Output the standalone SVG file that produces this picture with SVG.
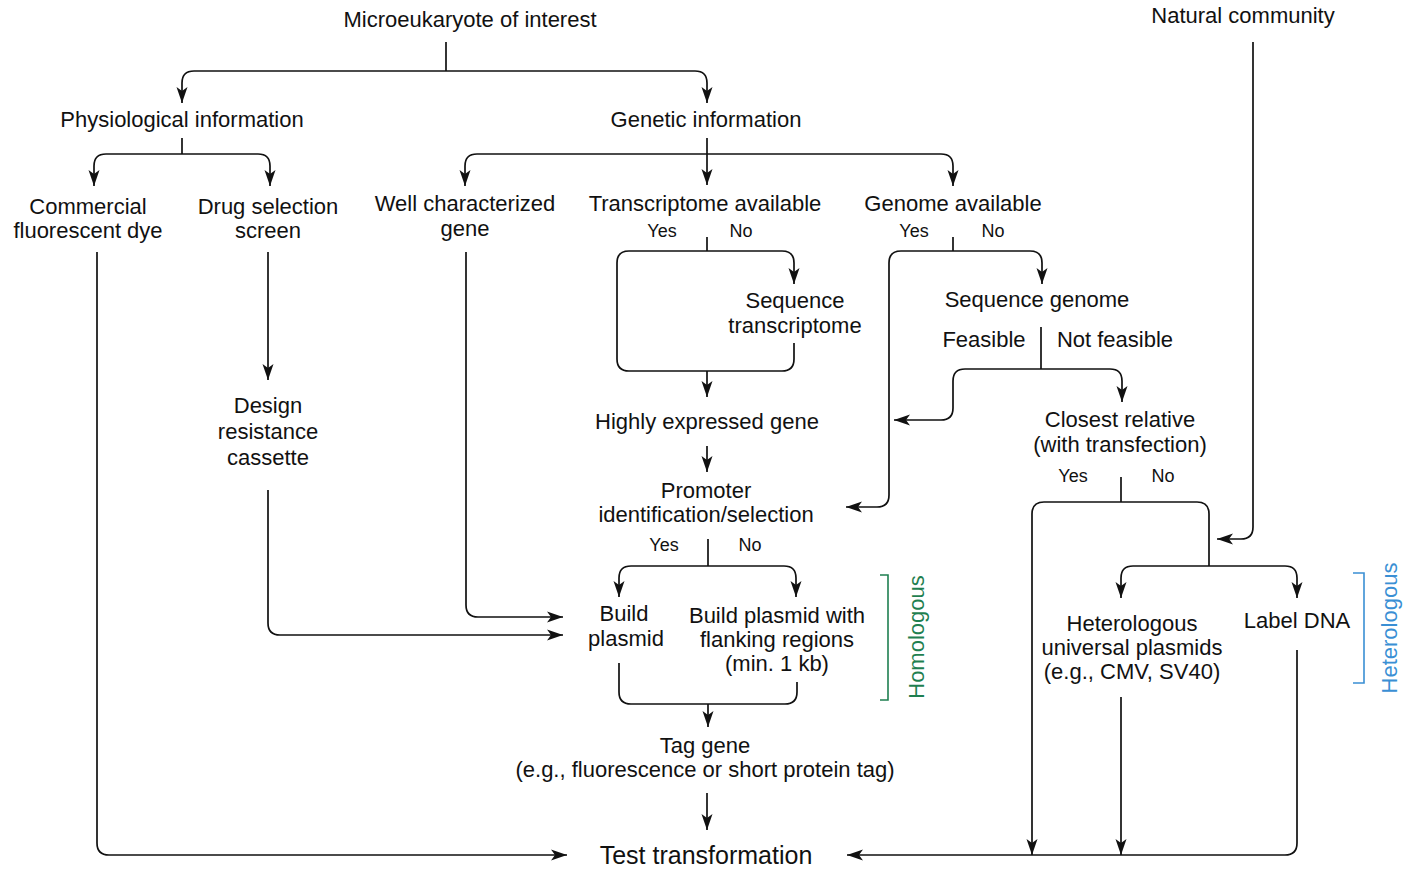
<svg xmlns="http://www.w3.org/2000/svg" width="1418" height="869" viewBox="0 0 1418 869">
<style>
text{font-family:"Liberation Sans",Arial,sans-serif;font-size:22px;fill:#111;text-anchor:middle}
.s{font-size:18px}
.big{font-size:25px}
.c path{fill:none;stroke:#111;stroke-width:1.7}
.ar{marker-end:url(#ah)}
.hom{fill:#1f7f50}
.het{fill:#3a8fd4}
</style>
<defs>
<marker id="ah" markerUnits="userSpaceOnUse" markerWidth="18" markerHeight="14" viewBox="0 0 18 14" refX="16" refY="7" orient="auto">
<path d="M0,1.5 L16,7 L0,12.5 L4,7 z" fill="#111"/>
</marker>
</defs>
<rect width="1418" height="869" fill="#fff"/>
<g class="c" id="connectors">
<path d="M446,42 V71"/>
<path class="ar" d="M446,71 H194 Q182,71 182,83 V103"/>
<path class="ar" d="M446,71 H695 Q707,71 707,83 V103"/>
<path d="M182,138 V154"/>
<path class="ar" d="M182,154 H106 Q94,154 94,166 V186"/>
<path class="ar" d="M182,154 H258 Q270,154 270,166 V186"/>
<path class="ar" d="M707,138 V185"/>
<path class="ar" d="M707,154 H477 Q465,154 465,166 V186"/>
<path class="ar" d="M707,154 H941 Q953,154 953,166 V186"/>
<path class="ar" d="M97,252 V843 Q97,855 109,855 H567"/>
<path class="ar" d="M268,252 V380"/>
<path class="ar" d="M268,490 V623 Q268,635 280,635 H563"/>
<path class="ar" d="M466,252 V605 Q466,617 478,617 H563"/>
<path d="M707,237 V251"/>
<path class="ar" d="M707,251 H782 Q794,251 794,263 V284"/>
<path d="M707,251 H629 Q617,251 617,263 V359 Q617,371 629,371 H782 Q794,371 794,359 V343"/>
<path class="ar" d="M707,371 V397"/>
<path class="ar" d="M707,446 V472"/>
<path d="M953,237 V251"/>
<path class="ar" d="M953,251 H1030 Q1042,251 1042,263 V284"/>
<path class="ar" d="M953,251 H901 Q889,251 889,263 V495 Q889,507 877,507 H846"/>
<path d="M1041,327 V369"/>
<path class="ar" d="M1041,369 H1110 Q1122,369 1122,381 V402"/>
<path class="ar" d="M1041,369 H965 Q953,369 953,381 V408 Q953,420 941,420 H894"/>
<path d="M1121,477 V502"/>
<path d="M1121,502 H1197 Q1209,502 1209,514 V566"/>
<path class="ar" d="M1121,502 H1044 Q1032,502 1032,514 V855"/>
<path class="ar" d="M1209,566 H1133 Q1121,566 1121,578 V598"/>
<path class="ar" d="M1209,566 H1285 Q1297,566 1297,578 V598"/>
<path class="ar" d="M1253,42 V527 Q1253,539 1241,539 H1217"/>
<path class="ar" d="M1121,697 V855"/>
<path class="ar" d="M1297,650 V843 Q1297,855 1285,855 H847"/>
<path d="M708,539 V566"/>
<path class="ar" d="M708,566 H631 Q619,566 619,578 V597"/>
<path class="ar" d="M708,566 H784 Q796,566 796,578 V597"/>
<path d="M619,663 V692 Q619,704 631,704 H785 Q797,704 797,692 V682"/>
<path class="ar" d="M708,704 V727"/>
<path class="ar" d="M707,793 V830"/>
</g>
<g id="brackets">
<path d="M880,575 H888 V700 H880" fill="none" stroke="#1f7f50" stroke-width="1.6"/>
<path d="M1353,573 H1364 V683 H1353" fill="none" stroke="#3a8fd4" stroke-width="1.6"/>
<text class="hom" transform="translate(924,637) rotate(-90)">Homologous</text>
<text class="het" transform="translate(1397,628) rotate(-90)">Heterologous</text>
</g>
<g id="n-micro"><text x="470" y="27">Microeukaryote of interest</text></g>
<g id="n-natural"><text x="1243" y="23">Natural community</text></g>
<g id="n-phys"><text x="182" y="127">Physiological information</text></g>
<g id="n-gen"><text x="706" y="127">Genetic information</text></g>
<g id="n-dye"><text x="88" y="214">Commercial</text><text x="88" y="238">fluorescent dye</text></g>
<g id="n-drug"><text x="268" y="214">Drug selection</text><text x="268" y="238">screen</text></g>
<g id="n-well"><text x="465" y="211">Well characterized</text><text x="465" y="236">gene</text></g>
<g id="n-trans"><text x="705" y="211">Transcriptome available</text><text class="s" x="662" y="237">Yes</text><text class="s" x="741" y="237">No</text></g>
<g id="n-genome"><text x="953" y="211">Genome available</text><text class="s" x="914" y="237">Yes</text><text class="s" x="993" y="237">No</text></g>
<g id="n-seqt"><text x="795" y="308">Sequence</text><text x="795" y="333">transcriptome</text></g>
<g id="n-seqg"><text x="1037" y="307">Sequence genome</text><text x="984" y="347">Feasible</text><text x="1115" y="347">Not feasible</text></g>
<g id="n-high"><text x="707" y="429">Highly expressed gene</text></g>
<g id="n-design"><text x="268" y="413">Design</text><text x="268" y="439">resistance</text><text x="268" y="465">cassette</text></g>
<g id="n-closest"><text x="1120" y="427">Closest relative</text><text x="1120" y="452">(with transfection)</text><text class="s" x="1073" y="482">Yes</text><text class="s" x="1163" y="482">No</text></g>
<g id="n-prom"><text x="706" y="498">Promoter</text><text x="706" y="522">identification/selection</text><text class="s" x="664" y="551">Yes</text><text class="s" x="750" y="551">No</text></g>
<g id="n-build"><text x="624" y="621">Build</text><text x="626" y="646">plasmid</text></g>
<g id="n-buildf"><text x="777" y="623">Build plasmid with</text><text x="777" y="647">flanking regions</text><text x="777" y="671">(min. 1 kb)</text></g>
<g id="n-hetero"><text x="1132" y="631">Heterologous</text><text x="1132" y="655">universal plasmids</text><text x="1132" y="679">(e.g., CMV, SV40)</text></g>
<g id="n-label"><text x="1297" y="628">Label DNA</text></g>
<g id="n-tag"><text x="705" y="753">Tag gene</text><text x="705" y="777">(e.g., fluorescence or short protein tag)</text></g>
<g id="n-test"><text class="big" x="706" y="864">Test transformation</text></g>
</svg>
